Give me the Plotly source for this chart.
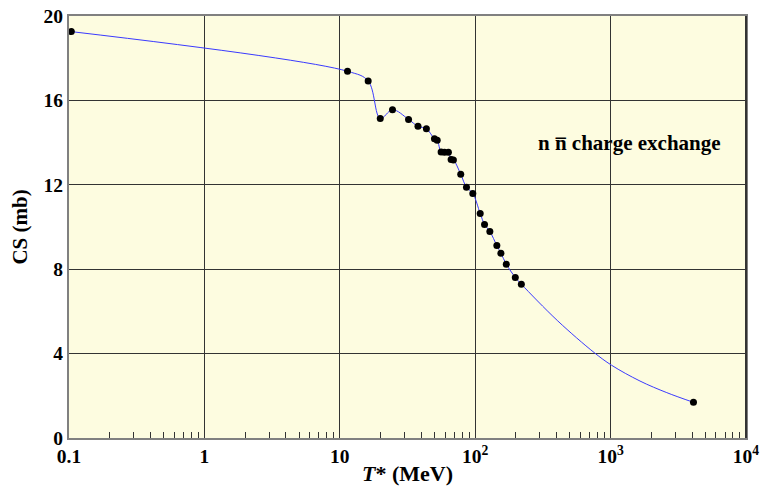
import plotly.graph_objects as go

# Antineutron charge-exchange cross section vs kinetic energy
energy_mev = [0.104, 11.4, 16.2, 19.9, 24.5, 32.2, 37.8, 43.6, 50.0, 52.4,
              56.0, 59.3, 63.4, 66.4, 69.0, 78.2, 86.2, 96.0, 108.9, 117.2,
              128.3, 144.5, 154.8, 169.7, 197.8, 219.2, 4093.0]
cs_mb = [19.26, 17.38, 16.92, 15.14, 15.56, 15.10, 14.77, 14.66, 14.18, 14.11,
         13.56, 13.54, 13.54, 13.20, 13.18, 12.50, 11.88, 11.59, 10.64, 10.12,
         9.79, 9.12, 8.76, 8.24, 7.61, 7.29, 1.69]

# Guide curve between the last two measurements (high-energy extrapolation)
curve_tail_energy = [407, 756, 1016, 1648, 2600]
curve_tail_cs = [5.55, 4.05, 3.45, 2.70, 2.15]

x_tickvals = [0.1, 1, 10, 100, 1000, 10000]
x_ticktext = ["0.1", "1", "10", "10<sup>2</sup>", "10<sup>3</sup>", "10<sup>4</sup>"]
x_minor = [m * 10 ** d for d in range(-1, 4) for m in range(2, 10)]
y_tickvals = [0, 4, 8, 12, 16, 20]

font_family = "Liberation Serif"

curve_x = energy_mev[:-1] + curve_tail_energy + energy_mev[-1:]
curve_y = cs_mb[:-1] + curve_tail_cs + cs_mb[-1:]

fig = go.Figure()
fig.add_trace(go.Scatter(
    x=curve_x, y=curve_y, mode="lines",
    line=dict(color="#3a3aff", width=1, shape="spline", smoothing=1.0),
    hoverinfo="skip", showlegend=False,
))
fig.add_trace(go.Scatter(
    x=energy_mev, y=cs_mb, mode="markers",
    marker=dict(color="black", size=7),
    showlegend=False,
))

fig.update_layout(
    width=769, height=486,
    margin=dict(l=69, r=23, t=16, b=48),
    paper_bgcolor="white",
    plot_bgcolor="#fdfce0",
    font=dict(family=font_family, size=19, color="black"),
    xaxis=dict(
        type="log", range=[-1, 4], automargin=False,
        tickvals=x_tickvals, ticktext=x_ticktext, ticks="",
        showgrid=True, gridcolor="#333333", gridwidth=1,
        showline=True, linecolor="#808080", linewidth=2, mirror=True,
        zeroline=False,
        tickfont=dict(family=font_family, size=19.5, color="black", weight="bold"),
        minor=dict(tickvals=x_minor, ticks="inside", ticklen=6,
                   tickcolor="#333333", showgrid=False),
        title=dict(text="<i>T</i>* (MeV)", standoff=2,
                   font=dict(family=font_family, size=22, weight="bold")),
    ),
    yaxis=dict(
        range=[0, 20], automargin=False, tickvals=y_tickvals, ticks="",
        showgrid=True, gridcolor="#333333", gridwidth=1,
        showline=True, linecolor="#808080", linewidth=2, mirror=True,
        zeroline=False,
        tickfont=dict(family=font_family, size=19.5, color="black", weight="bold"),
        title=dict(text="CS (mb)", standoff=10,
                   font=dict(family=font_family, size=21, weight="bold")),
    ),
    annotations=[dict(
        x=3.143, y=14.0, xref="x", yref="y", showarrow=False,
        text="n n\u0305 charge exchange",
        font=dict(family=font_family, size=21, color="black", weight="bold"),
    )],
    shapes=[dict(type="line", xref="paper", yref="paper", x0=1, x1=1, y0=0, y1=1,
                 line=dict(color="#333333", width=2))],
)

fig.write_html("out.html")
